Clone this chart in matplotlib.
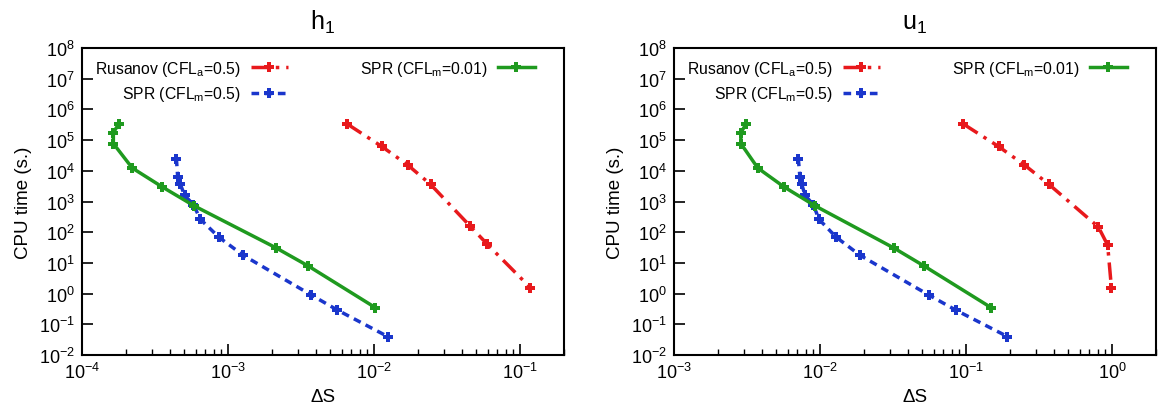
import matplotlib
matplotlib.use("Agg")
import matplotlib.pyplot as plt
from matplotlib.ticker import LogLocator, NullFormatter, NullLocator

plt.rcParams['font.family'] = ['Liberation Sans', 'DejaVu Sans']
plt.rcParams['mathtext.fontset'] = 'custom'
plt.rcParams['mathtext.rm'] = 'Liberation Sans'
plt.rcParams['mathtext.it'] = 'Liberation Sans:italic'
plt.rcParams['mathtext.default'] = 'regular'

# h1 panel
h_rus_ds = [0.00652, 0.0113, 0.0170, 0.0244, 0.0455, 0.0598, 0.1175]
h_rus_cpu = [3.4e5, 6.2e4, 1.55e4, 3.6e3, 158, 40, 1.57]
h_spr05_ds = [4.43e-4, 4.52e-4, 4.72e-4, 5.04e-4, 5.8e-4, 6.47e-4, 8.65e-4, 1.27e-3, 3.72e-3, 5.62e-3, 0.0124]
h_spr05_cpu = [2.5e4, 6.5e3, 3.6e3, 1.6e3, 780, 263, 69, 17.7, 0.9, 0.29, 0.04]
h_spr001_ds = [1.78e-4, 1.64e-4, 1.64e-4, 2.21e-4, 3.55e-4, 5.89e-4, 2.13e-3, 3.55e-3, 0.0102]
h_spr001_cpu = [3.3e5, 1.75e5, 7.7e4, 1.23e4, 2.97e3, 713, 31, 7.9, 0.35]

# u1 panel
u_rus_ds = [0.0953, 0.167, 0.251, 0.370, 0.806, 0.933, 0.99]
u_rus_cpu = [3.4e5, 6.2e4, 1.55e4, 3.6e3, 148, 38, 1.57]
u_spr05_ds = [7.1e-3, 7.28e-3, 7.5e-3, 7.9e-3, 9.0e-3, 9.84e-3, 0.0129, 0.0188, 0.0556, 0.0851, 0.192]
u_spr05_cpu = [2.5e4, 6.5e3, 3.6e3, 1.6e3, 780, 263, 69, 17.7, 0.9, 0.29, 0.04]
u_spr001_ds = [3.11e-3, 2.87e-3, 2.87e-3, 3.75e-3, 5.68e-3, 9.3e-3, 0.0319, 0.0517, 0.1485]
u_spr001_cpu = [3.3e5, 1.75e5, 7.7e4, 1.23e4, 2.97e3, 713, 31, 7.9, 0.35]

red = '#e8191c'
blue = '#1a36cc'
green = '#1f9a1f'

fig = plt.figure(figsize=(11.58, 4.14), dpi=100)
ax1 = fig.add_axes([82/1158, 58/414, 482/1158, 307/414])
ax2 = fig.add_axes([674/1158, 58/414, 482/1158, 307/414])


def panel(ax, rus_x, rus_y, s5_x, s5_y, s1_x, s1_y, xlim, title):
    mk = dict(marker='P', markersize=7.5, markeredgewidth=0)
    ax.plot(rus_x, rus_y, color=red, lw=2.5, linestyle=(0, (5, 2, 1, 2)),
            label='Rusanov (CFL$_a$=0.5)', **mk)
    ax.plot(s5_x, s5_y, color=blue, lw=2.5, linestyle=(0, (2.2, 1.6)),
            label='SPR (CFL$_m$=0.5)', **mk)
    ax.plot(s1_x, s1_y, color=green, lw=2.5, linestyle='-',
            label='SPR (CFL$_m$=0.01)', **mk)
    ax.set_xscale('log')
    ax.set_yscale('log')
    ax.set_xlim(*xlim)
    ax.set_ylim(1e-2, 1e8)
    ax.yaxis.set_major_locator(LogLocator(base=10, numticks=20))
    ax.yaxis.set_minor_locator(NullLocator())
    ax.xaxis.set_minor_locator(LogLocator(base=10, subs=range(2, 10), numticks=20))
    ax.xaxis.set_minor_formatter(NullFormatter())
    ax.tick_params(which='major', direction='in', length=8, width=1.2,
                   labelsize=13, top=False, right=False, pad=5)
    ax.tick_params(which='minor', direction='in', length=4, width=1.0,
                   top=False, right=False)
    for s in ax.spines.values():
        s.set_linewidth(1.5)
    ax.set_xlabel('ΔS', fontsize=13.5, labelpad=4)
    ax.set_ylabel('CPU time (s.)', fontsize=13.5, labelpad=5)
    ax.set_title(title, fontsize=18, pad=14)
    ax.legend(loc='upper left', ncol=2, frameon=False, markerfirst=False,
              fontsize=11.3, handlelength=2.4, handletextpad=0.6,
              columnspacing=4.6, labelspacing=0.4, borderaxespad=0.3,
              bbox_to_anchor=(0.005, 1.0))


panel(ax1, h_rus_ds, h_rus_cpu, h_spr05_ds, h_spr05_cpu, h_spr001_ds, h_spr001_cpu,
      (1e-4, 0.2), 'h$_1$')
panel(ax2, u_rus_ds, u_rus_cpu, u_spr05_ds, u_spr05_cpu, u_spr001_ds, u_spr001_cpu,
      (1e-3, 2.0), 'u$_1$')

fig.savefig('out.png', dpi=100)
